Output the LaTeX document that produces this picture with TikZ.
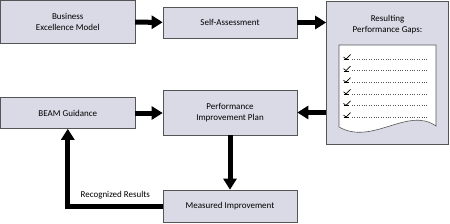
\documentclass[tikz,border=0pt]{standalone}
\usepackage{fontspec}
\setmainfont{Carlito}
\usetikzlibrary{arrows.meta,positioning,calc}
\definecolor{boxfill}{HTML}{DADAE7}
\definecolor{edge}{HTML}{555555}
\tikzset{
  box/.style={draw=edge,line width=0.6pt,fill=boxfill,align=center,inner sep=2pt,font=\fontsize{9}{10.5}\selectfont},
  ar/.style={-{Triangle[length=11pt,width=13pt]},line width=5pt,draw=black},
}
\begin{document}
\begin{tikzpicture}[x=1pt,y=-1pt]
\useasboundingbox (0,0) rectangle (450,223);
\node[box,minimum width=134pt,minimum height=43pt] (bem) at (67.8,22) {Business\\Excellence Model};
\node[box,minimum width=134pt,minimum height=31pt] (sa) at (230,22.5) {Self-Assessment};
\node[box,minimum width=122pt,minimum height=143pt,
  label={[font=\fontsize{9}{10.5}\selectfont,align=center,anchor=north,yshift=-11pt]north:Resulting\\Performance Gaps:}] (gaps) at (387.5,73) {};
\node[box,minimum width=134pt,minimum height=31pt] (beam) at (67.8,113) {BEAM Guidance};
\node[box,minimum width=134pt,minimum height=45pt] (pip) at (230,112.5) {Performance\\Improvement Plan};
\node[box,minimum width=134pt,minimum height=32pt] (meas) at (230,206) {Measured Improvement};
% checklist sheet
\draw[edge,line width=0.6pt,fill=white] (339,45) -- (436,45) -- (436,126)
  .. controls (408,106) and (372,146) .. (339,127) -- cycle;
\foreach \y in {57,68.6,80.2,91.8,103.4,115}{
  \draw[line width=0.5pt] (343.5,\y+2.2) -- (349,\y+2.2);
  \draw[line width=0.7pt] (343.5,\y) -- (346,\y+2) -- (350.5,\y-2.5);
  \draw[line width=0.4pt,dotted,edge] (352,\y+2) -- (428,\y+2);
}
% flow
\draw[ar] (bem) -- (sa);
\draw[ar] (sa.east) -- (gaps.west |- sa.east);
\draw[ar] (gaps.west |- pip.east) -- (pip.east);
\draw[ar] (beam) -- (pip.west |- beam.east);
\draw[ar] (pip) -- (meas);
\draw[ar] (meas.west) -| node[pos=0.25,above=1pt,font=\fontsize{9}{10.5}\selectfont] {Recognized Results} (beam.south);
\end{tikzpicture}
\end{document}
